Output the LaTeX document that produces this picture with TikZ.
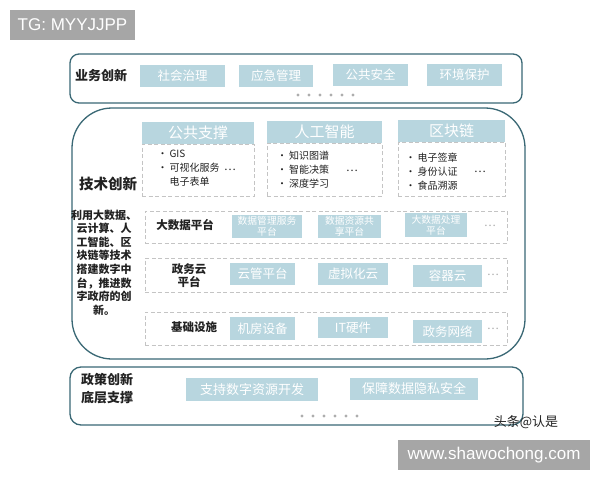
\documentclass[tikz,border=0pt]{standalone}
\usepackage{fontspec}
\setmainfont{Noto Sans CJK SC}
\newfontfamily\latinf{Liberation Sans}
\definecolor{boxblue}{HTML}{B8D6DF}
\definecolor{frame}{HTML}{3A6875}
\definecolor{dashc}{HTML}{C4C4C4}
\definecolor{tagg}{HTML}{A6A6A6}
\definecolor{ink}{HTML}{222222}
\definecolor{dotc}{HTML}{ADADAD}
\newcommand\bul{\makebox[12pt][l]{•}}
\begin{document}
\begin{tikzpicture}[x=1pt,y=-1pt,
 every node/.style={inner sep=0pt, outer sep=0pt},
 tagbox/.style={fill=tagg, text=white, font=\latinf\fontsize{17}{17}\selectfont},
 frm/.style={draw=frame, line width=1.3pt, fill=white},
 bluebox/.style={fill=boxblue, text=white, font=\fontsize{12.5}{14}\selectfont},
 smallbox/.style={fill=boxblue, text=white, font=\fontsize{9.8}{11}\selectfont, align=center},
 head/.style={fill=boxblue, text=white, font=\fontsize{15}{16}\selectfont},
 dbox/.style={draw=dashc, dash pattern=on 4pt off 2.5pt, line width=0.8pt},
 lab/.style={text=ink, font=\bfseries\fontsize{11.5}{13}\selectfont, align=center},
 title/.style={text=ink, font=\bfseries\fontsize{13}{18}\selectfont, align=center},
 blist/.style={text=ink, font=\fontsize{10}{14}\selectfont, align=left, anchor=west},
 ell/.style={text=ink, font=\fontsize{11}{11}\selectfont},
 gell/.style={text=dashc!85!black, font=\fontsize{11}{11}\selectfont},
 dotn/.style={circle, fill=dotc, minimum size=3.4pt}
]
\useasboundingbox (0,0) rectangle (600,480);
\fill[white] (0,0) rectangle (600,480);

% tag
\node[tagbox, minimum width=125pt, minimum height=30pt] (tg) at (72.5,25) {TG: MYYJJPP};

% top box
\node[frm, rounded corners=9pt, minimum width=452pt, minimum height=49pt] (top) at (296,78.5) {};
\node[title] (ywcx) at (101,76) {业务创新};
\node[bluebox, minimum width=85pt, minimum height=22pt] (t1) at (182.5,76) {社会治理};
\node[bluebox, minimum width=74pt, minimum height=22pt] (t2) at (276,75.5) {应急管理};
\node[bluebox, minimum width=75pt, minimum height=22pt] (t3) at (370.5,75) {公共安全};
\node[bluebox, minimum width=75pt, minimum height=22pt] (t4) at (464.5,75) {环境保护};
\foreach \k in {0,...,5} \node[dotn] (td\k) at ({298+11*\k},95) {};

% main box
\node[frm, rounded corners=40pt, minimum width=453pt, minimum height=251pt] (main) at (298.5,233.5) {};
\node[title, font=\bfseries\fontsize{14.5}{18}\selectfont] (jscx) at (108,184) {技术创新};
\node[text=ink, font=\bfseries\fontsize{11}{13.6}\selectfont, align=center] (para) at (104,262.5)
 {利用大数据、\\云计算、人\\工智能、区\\块链等技术\\搭建数字中\\台，推进数\\字政府的创\\新。};

% headers
\node[head, minimum width=112pt, minimum height=22pt] (h1) at (198,133) {公共支撑};
\node[dbox, minimum width=112pt, minimum height=52pt] (b1) at (198,170) {};
\node[head, minimum width=115pt, minimum height=22pt] (h2) at (324.5,132) {人工智能};
\node[dbox, minimum width=115pt, minimum height=53pt] (b2) at (324.5,169.5) {};
\node[head, minimum width=107pt, minimum height=22pt] (h3) at (451.5,131) {区块链};
\node[dbox, minimum width=107pt, minimum height=54pt] (b3) at (451.5,169) {};

\node[blist] (l1) at (157.5,168.5) {\bul GIS\\\bul 可视化服务\\\hspace*{12pt}电子表单};
\node[ell] (e1) at (230,170) {…};
\node[blist] (l2) at (277,169.5) {\bul 知识图谱\\\bul 智能决策\\\bul 深度学习};
\node[ell] (e2) at (352,171) {…};
\node[blist] (l3) at (405.5,171.5) {\bul 电子签章\\\bul 身份认证\\\bul 食品溯源};
\node[ell] (e3) at (480,172) {…};

% rows
\node[dbox, minimum width=362pt, minimum height=32pt] (r1) at (326,227) {};
\node[dbox, minimum width=362pt, minimum height=34pt] (r2) at (326,275) {};
\node[dbox, minimum width=362pt, minimum height=33pt] (r3) at (326,328.5) {};

\node[lab] (rl1) at (185,225) {大数据平台};
\node[lab] (rl2) at (189,276) {政务云\\平台};
\node[lab] (rl3) at (194,327) {基础设施};

\node[smallbox, minimum width=70pt, minimum height=23pt] (a1) at (267,226.5) {数据管理服务\\平台};
\node[smallbox, minimum width=63pt, minimum height=23pt] (a2) at (349.5,226.5) {数据资源共\\享平台};
\node[smallbox, minimum width=62pt, minimum height=24pt] (a3) at (436,225) {大数据处理\\平台};
\node[gell] (ea) at (490,226) {…};

\node[bluebox, minimum width=65pt, minimum height=22pt] (c1) at (262.5,274) {云管平台};
\node[bluebox, minimum width=70pt, minimum height=22pt] (c2) at (353,274) {虚拟化云};
\node[bluebox, minimum width=69pt, minimum height=22pt] (c3) at (447.5,276) {容器云};
\node[gell] (ec) at (493,275) {…};

\node[bluebox, minimum width=65pt, minimum height=23pt] (d1) at (262.5,328.5) {机房设备};
\node[bluebox, minimum width=70pt, minimum height=21pt] (d2) at (353,327.5) {IT硬件};
\node[bluebox, minimum width=69pt, minimum height=23pt] (d3) at (447.5,331.5) {政务网络};
\node[gell] (ed) at (493,329) {…};

% bottom box
\node[frm, rounded corners=11pt, minimum width=453pt, minimum height=58pt] (bot) at (296.5,396) {};
\node[title] (zccx) at (107,389) {政策创新\\底层支撑};
\node[bluebox, font=\fontsize{13}{14}\selectfont, minimum width=132pt, minimum height=23pt] (p1) at (252,389.5) {支持数字资源开发};
\node[bluebox, font=\fontsize{13}{14}\selectfont, minimum width=128pt, minimum height=22pt] (p2) at (414,389) {保障数据隐私安全};
\foreach \k in {0,...,5} \node[dotn] (bd\k) at ({302+11*\k},416) {};

% watermarks
\node[text=ink, font=\fontsize{13}{13}\selectfont] (wm) at (526,422) {头条@认是};
\node[tagbox, minimum width=192pt, minimum height=30pt] (url) at (494,455) {www.shawochong.com};
\end{tikzpicture}
\end{document}
